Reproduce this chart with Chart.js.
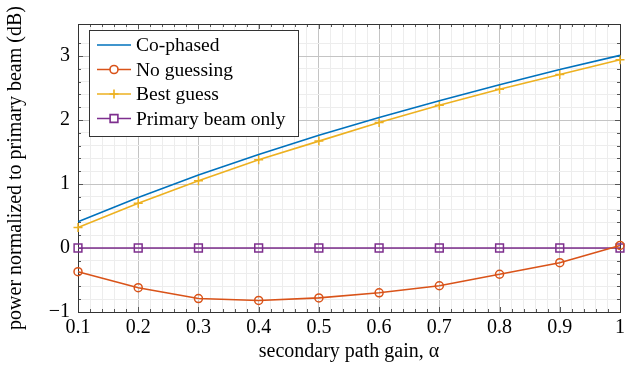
<!DOCTYPE html>
<html>
<head>
<meta charset="utf-8">
<script src="https://cdn.jsdelivr.net/npm/chart.js@4"></script>
<style>
  html, body { margin: 0; padding: 0; background: #fff; }
  #wrap { width: 635px; height: 367px; position: relative; }
</style>
</head>
<body>
<div id="wrap"><canvas id="chart" width="635" height="367"></canvas></div>
<script>
const alpha = [0.1, 0.2, 0.3, 0.4, 0.5, 0.6, 0.7, 0.8, 0.9, 1.0];
const coPhased = [0.41, 0.79, 1.14, 1.46, 1.76, 2.04, 2.30, 2.55, 2.79, 3.01];
const noGuessing = [-0.37, -0.62, -0.79, -0.82, -0.78, -0.70, -0.59, -0.41, -0.23, 0.04];
const bestGuess = [0.32, 0.70, 1.05, 1.38, 1.67, 1.96, 2.23, 2.48, 2.71, 2.94];
const primaryOnly = [0, 0, 0, 0, 0, 0, 0, 0, 0, 0];
const seriesNames = ['Co-phased', 'No guessing', 'Best guess', 'Primary beam only'];
const xTitle = 'secondary path gain, \u03b1';
const yTitle = 'power normalized to primary beam (dB)';

const FONT = '"Liberation Serif", "DejaVu Serif", serif';
const colors = ['#0072BD', '#D95319', '#EDB120', '#7E2F8E'];

const toPts = (ys) => ys.map((y, i) => ({ x: alpha[i], y: y }));

const isMajor = (v, step) => Math.abs(v / step - Math.round(v / step)) < 1e-6;

// inside tick marks + full frame
const framePlugin = {
  id: 'frame',
  beforeDatasetsDraw(chart) {
    const { ctx, chartArea: a, scales } = chart;
    ctx.save();
    ctx.strokeStyle = '#555';
    ctx.lineWidth = 1;
    ctx.beginPath();
    scales.x.ticks.forEach(t => {
      const px = Math.round(scales.x.getPixelForValue(t.value)) + 0.5;
      const len = isMajor(t.value, 0.1) ? 5 : 3;
      ctx.moveTo(px, a.bottom); ctx.lineTo(px, a.bottom - len);
      ctx.moveTo(px, a.top); ctx.lineTo(px, a.top + len);
    });
    scales.y.ticks.forEach(t => {
      const py = Math.round(scales.y.getPixelForValue(t.value)) + 0.5;
      const len = isMajor(t.value, 1) ? 5 : 3;
      ctx.moveTo(a.left, py); ctx.lineTo(a.left + len, py);
      ctx.moveTo(a.right, py); ctx.lineTo(a.right - len, py);
    });
    ctx.stroke();
    ctx.strokeStyle = '#333';
    ctx.strokeRect(Math.round(a.left) + 0.5, Math.round(a.top) + 0.5,
      Math.round(a.right - a.left), Math.round(a.bottom - a.top));
    ctx.restore();
  }
};

// legend box in the upper left of the plot
const legendPlugin = {
  id: 'boxLegend',
  afterDraw(chart) {
    const ctx = chart.ctx;
    const bx = 89, by = 30, bw = 209, bh = 106;
    ctx.save();
    ctx.fillStyle = '#fff';
    ctx.fillRect(bx, by, bw, bh);
    ctx.strokeStyle = '#333';
    ctx.lineWidth = 1;
    ctx.strokeRect(bx + 0.5, by + 0.5, bw, bh);
    ctx.font = '19.5px ' + FONT;
    ctx.textBaseline = 'middle';
    chart.data.datasets.forEach((ds, i) => {
      const y = by + 15 + i * 24.5;
      ctx.strokeStyle = ds.borderColor;
      ctx.lineWidth = 1.6;
      ctx.beginPath();
      ctx.moveTo(97, y); ctx.lineTo(131, y);
      ctx.stroke();
      if (ds.pointStyle) {
        ctx.fillStyle = '#fff';
        Chart.helpers.drawPoint(ctx, {
          pointStyle: ds.pointStyle, radius: ds.pointRadius, borderWidth: 1.5, rotation: 0
        }, 114, y);
      }
      ctx.fillStyle = '#000';
      ctx.fillText(ds.label, 136, y + 1);
    });
    ctx.restore();
  }
};

const mk = (i, data, style, r) => ({
  label: seriesNames[i],
  data: toPts(data),
  borderColor: colors[i],
  backgroundColor: 'rgba(0,0,0,0)',
  borderWidth: 1.6,
  pointStyle: style,
  pointRadius: r,
  pointBorderWidth: 1.5,
  pointBorderColor: colors[i],
  pointBackgroundColor: 'rgba(0,0,0,0)',
  tension: 0,
  clip: false
});

const datasets = [
  mk(0, coPhased, false, 0),
  mk(1, noGuessing, 'circle', 4),
  mk(2, bestGuess, 'cross', 4.5),
  mk(3, primaryOnly, 'rect', 5.5)
];

const Charts = new Chart('chart', {
  type: 'line',
  data: { datasets: datasets },
  options: {
    responsive: false,
    animation: false,
    events: [],
    layout: { padding: { left: 0, right: 15, top: 24, bottom: 0 } },
    plugins: { legend: { display: false }, tooltip: { enabled: false } },
    scales: {
      x: {
        type: 'linear',
        min: 0.1, max: 1,
        afterFit(s) { s.height = 55; },
        border: { display: false },
        grid: {
          drawTicks: false,
          color: (c) => isMajor(c.tick.value, 0.1) ? '#c4c4c4' : '#ededed'
        },
        ticks: {
          stepSize: 0.02,
          autoSkip: false,
          maxRotation: 0,
          padding: 4,
          color: '#000',
          font: { family: FONT, size: 20 },
          callback: (v) => isMajor(v, 0.1) ? (Math.round(v * 10) / 10).toString() : ''
        },
        title: {
          display: true, text: xTitle, color: '#000',
          font: { family: FONT, size: 20 },
          padding: { top: 0, bottom: 3 }
        }
      },
      y: {
        type: 'linear',
        min: -1, max: 3.5,
        afterFit(s) { s.width = 78; },
        border: { display: false },
        grid: {
          drawTicks: false,
          color: (c) => isMajor(c.tick.value, 1) ? '#c4c4c4' : '#ededed'
        },
        ticks: {
          stepSize: 0.2,
          autoSkip: false,
          padding: 8,
          color: '#000',
          font: { family: FONT, size: 20 },
          callback: (v) => isMajor(v, 1) ? (v < 0 ? '\u2212' + Math.abs(Math.round(v)) : Math.round(v).toString()) : ''
        },
        title: {
          display: true, text: yTitle, color: '#000',
          font: { family: FONT, size: 20 },
          padding: { top: 4, bottom: 0 }
        }
      }
    }
  },
  plugins: [framePlugin, legendPlugin]
});
</script>
</body>
</html>
